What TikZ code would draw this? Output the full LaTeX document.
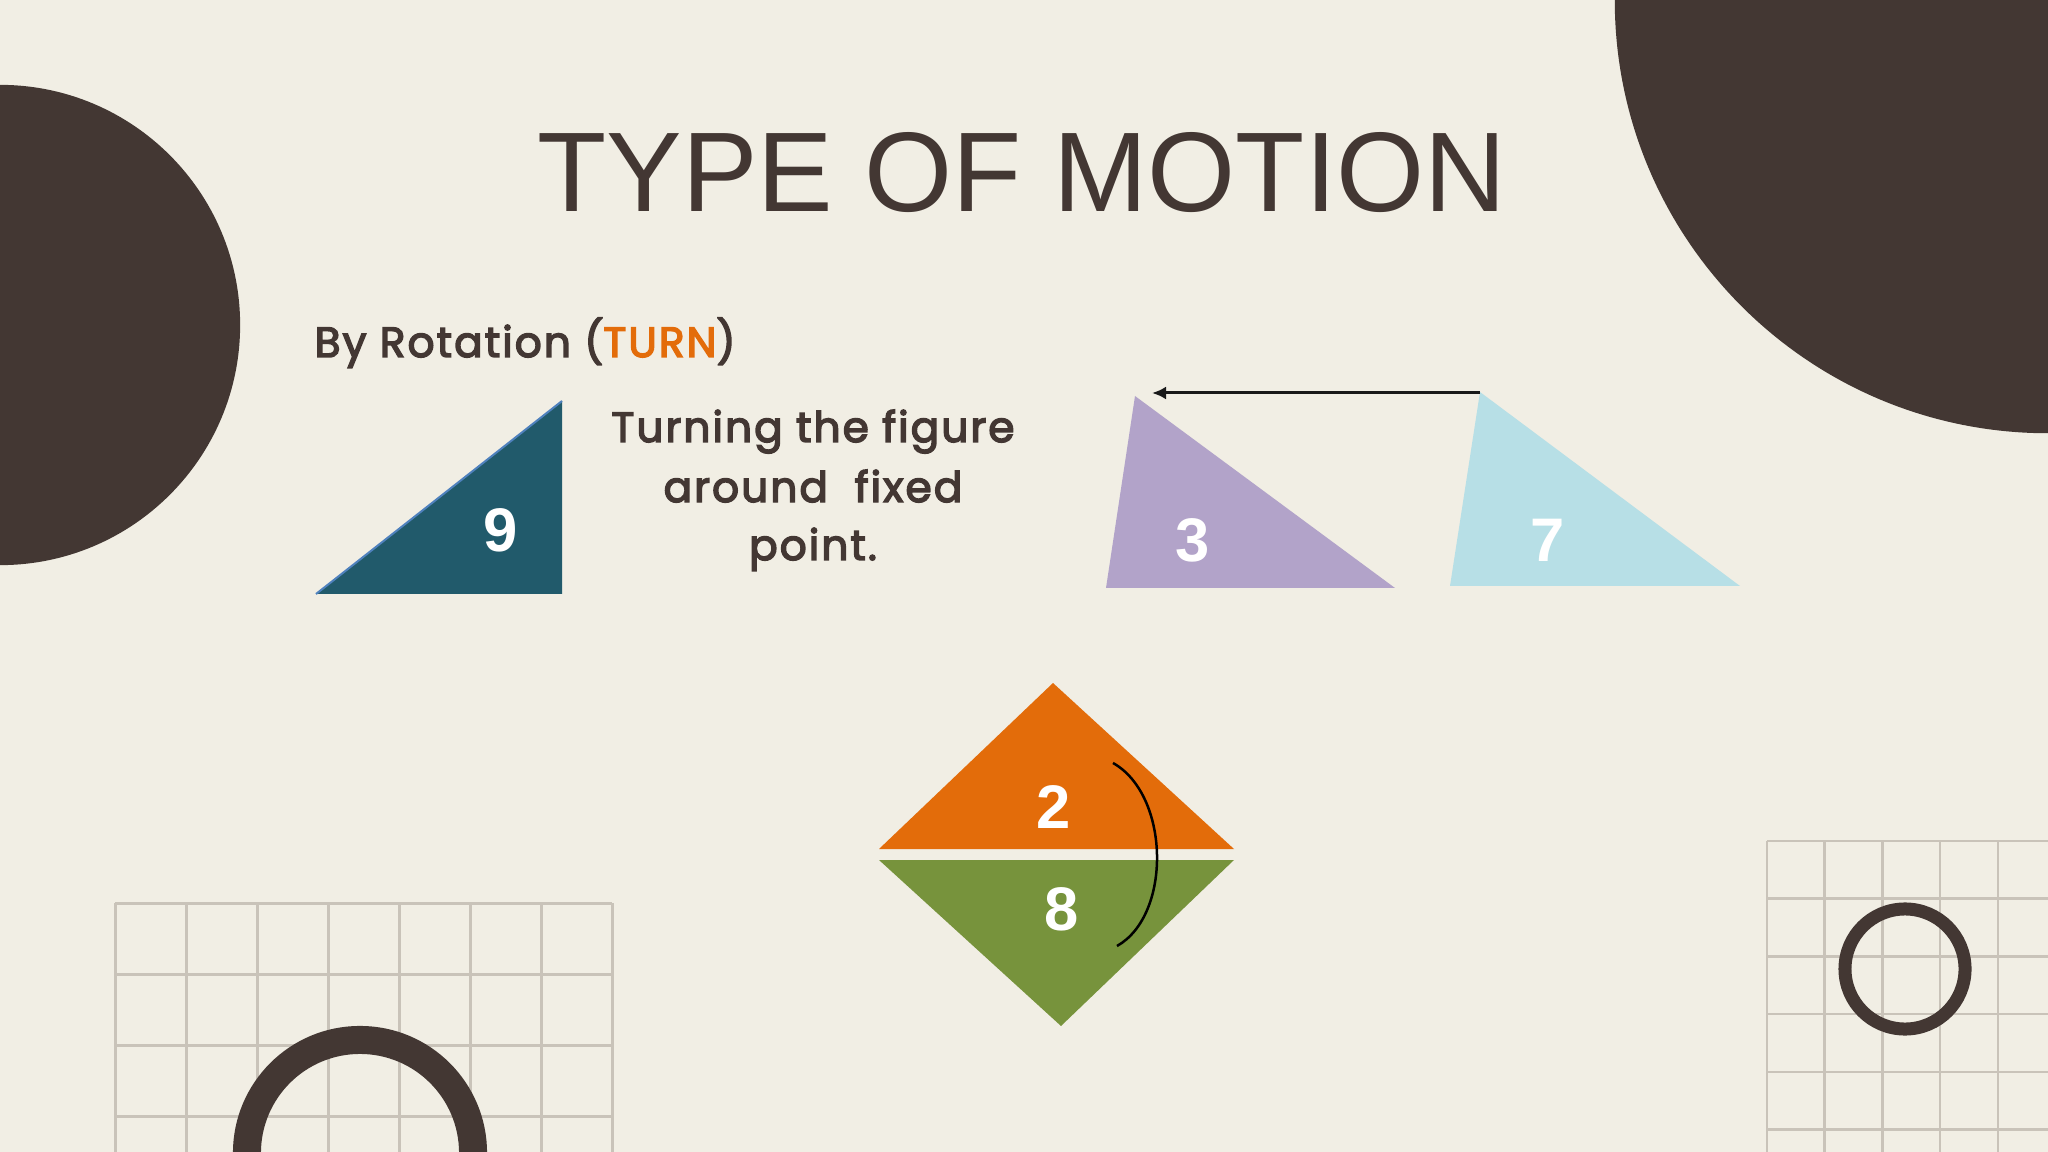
\documentclass[tikz,border=0pt]{standalone}
\usepackage{fontspec}
\setmainfont{Liberation Sans}
\newfontfamily\quick[FakeBold=3.5,LetterSpace=5]{Poppins}
\usetikzlibrary{arrows.meta}
\definecolor{bgcream}{HTML}{F1EEE4}
\definecolor{darkbrown}{HTML}{433733}
\definecolor{gridgrey}{HTML}{C9C3B9}
\definecolor{tealnine}{HTML}{215A6B}
\definecolor{lilac}{HTML}{B2A3C9}
\definecolor{skyblue}{HTML}{B7DFE6}
\definecolor{turnorange}{HTML}{E36C0A}
\definecolor{olivegreen}{HTML}{77933C}
\definecolor{edgeblue}{HTML}{4F81BD}

\begin{document}
\begin{tikzpicture}[x=0.01cm,y=-0.01cm,
        digit/.style={text=white,inner sep=0pt,font=\fontsize{17.5}{17.5}\selectfont\bfseries},
        bodytext/.style={text=darkbrown,inner sep=0pt,font=\quick\fontsize{12}{16.8}\selectfont},
        gridline/.style={draw=gridgrey,line width=0.03cm}]
        \useasboundingbox (0,0) rectangle (2048,1152);
        \clip (0,0) rectangle (2048,1152);
        \fill[bgcream] (0,0) rectangle (2048,1152);

        % dark discs at the edges
        \fill[darkbrown] (0,325) circle (2.4cm);
        \fill[darkbrown] (2048,0) circle (4.33cm);

        % grids
        \foreach \gx in {115,186,...,612} \draw[gridline] (\gx,903) -- (\gx,1152);
        \foreach \gy in {903,974,...,1152} \draw[gridline] (115,\gy) -- (612,\gy);
        \foreach \gx in {1767,1824.7,...,2048} \draw[gridline,line width=0.025cm] (\gx,841) -- (\gx,1152);
        \foreach \gy in {841,898.7,...,1152} \draw[gridline,line width=0.025cm] (1767,\gy) -- (2048,\gy);
        \draw[darkbrown,line width=0.28cm] (360,1153) circle (1.13cm);
        \draw[darkbrown,line width=0.13cm] (1905,969) circle (0.6cm);

        % texts
        \node[anchor=base,text=darkbrown,inner sep=0pt,font=\fontsize{32.2}{32}\selectfont] (title) at (1022,212) {TYPE OF MOTION};
        \node[bodytext,anchor=base west] (heading) at (314,357) {By Rotation ({\color{turnorange}TURN})};
        \node[bodytext,anchor=base] (lineone) at (813,442) {Turning the figure};
        \node[bodytext,anchor=base] (linetwo) at (813,502) {around\ \ fixed};
        \node[bodytext,anchor=base] (linethree) at (813,560) {point.};

        % triangles
        \fill[tealnine] (316,594) -- (562,401) -- (562,594) -- cycle;
        \draw[edgeblue,line width=0.02cm] (316,594) -- (562,401);
        \fill[lilac] (1106,588) -- (1135,396) -- (1395,588) -- cycle;
        \fill[skyblue] (1450,586) -- (1480,392) -- (1740,586) -- cycle;
        \fill[turnorange] (879,849) -- (1053,683) -- (1234,849) -- cycle;
        \fill[olivegreen] (879,860) -- (1234,860) -- (1061,1026) -- cycle;

        \node[digit] (nine) at (501,530) {9};
        \node[digit] (three) at (1193,540) {3};
        \node[digit] (seven) at (1548,540) {7};
        \node[digit] (two) at (1054,807) {2};
        \node[digit] (eight) at (1062,909) {8};

        % turn arrows
        \coordinate (topseven) at (1480,393);
        \coordinate (topthree) at (1152,393);
        \draw[-{Latex[length=0.14cm,width=0.13cm]},line width=0.03cm,black!90] (topseven) -- (topthree);
        \coordinate (arcup) at (1113,763);
        \coordinate (arcdown) at (1117,946);
        \draw[line width=0.025cm] (arcup) .. controls (1170,795) and (1172,915) .. (arcdown);
    \end{tikzpicture}
\end{document}
